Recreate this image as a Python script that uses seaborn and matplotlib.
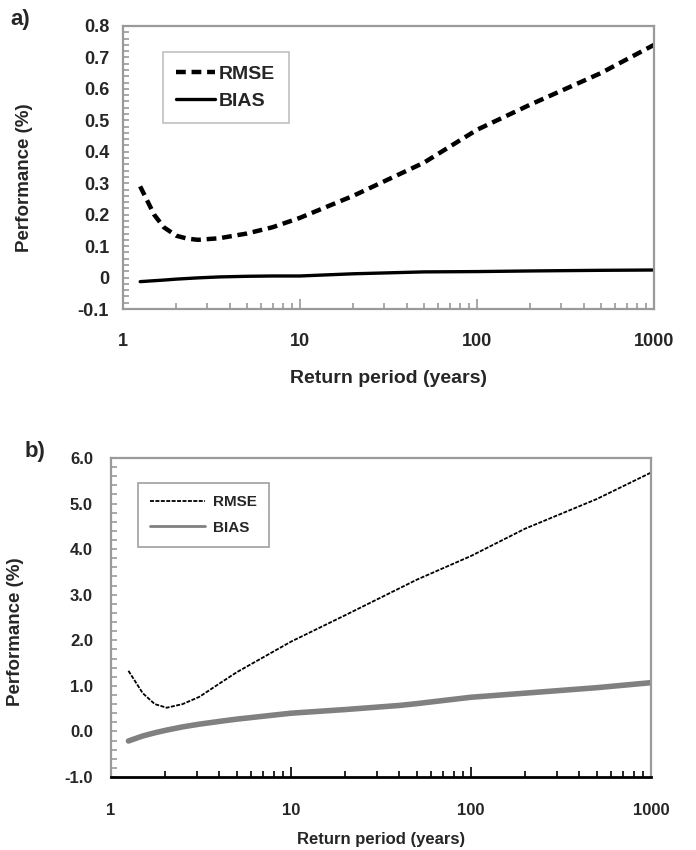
import numpy as np
import pandas as pd
import matplotlib
matplotlib.use("Agg")
import matplotlib.pyplot as plt
import seaborn as sns
from matplotlib.ticker import LogLocator, MultipleLocator, NullFormatter

# ========== Data ==========
# panel a)
rp_a = [1.25, 1.5, 1.7, 2.0, 2.3, 2.65, 3.5, 5, 7, 10, 20, 50, 100, 200, 500, 1000]
rmse_a = [0.29, 0.20, 0.16, 0.133, 0.124, 0.12, 0.125, 0.14, 0.16, 0.19, 0.26, 0.365, 0.47, 0.55, 0.65, 0.74]
bias_a = [-0.013, -0.010, -0.008, -0.005, -0.003, -0.001, 0.002, 0.004, 0.005, 0.005, 0.012, 0.018, 0.019, 0.021, 0.023, 0.024]

# panel b)
rp_b = [1.25, 1.5, 1.75, 2.04, 2.5, 3.1, 4, 5, 10, 20, 40, 50, 100, 200, 500, 1000]
rmse_b = [1.33, 0.84, 0.60, 0.52, 0.60, 0.76, 1.05, 1.30, 1.97, 2.55, 3.14, 3.33, 3.85, 4.45, 5.10, 5.68]
bias_b = [-0.21, -0.10, -0.03, 0.03, 0.10, 0.16, 0.22, 0.27, 0.40, 0.48, 0.57, 0.61, 0.75, 0.84, 0.96, 1.07]

yticks_a = [-0.1, 0, 0.1, 0.2, 0.3, 0.4, 0.5, 0.6, 0.7, 0.8]
ylabels_a = ['-0.1', '0', '0.1', '0.2', '0.3', '0.4', '0.5', '0.6', '0.7', '0.8']
yticks_b = [-1.0, 0.0, 1.0, 2.0, 3.0, 4.0, 5.0, 6.0]
ylabels_b = ['-1.0', '0.0', '1.0', '2.0', '3.0', '4.0', '5.0', '6.0']
xticks = [1, 10, 100, 1000]
xlabels = ['1', '10', '100', '1000']

sns.set_style('white')
plt.rcParams['font.family'] = ['Liberation Sans', 'DejaVu Sans']
plt.rcParams['axes.unicode_minus'] = False

fig = plt.figure(figsize=(6.96, 8.5), dpi=100)
grey = '#9a9a9a'

# ========== Panel a ==========
ax1 = fig.add_axes([123 / 696, 1 - 309 / 850, 531 / 696, 283 / 850])
df_a = pd.DataFrame({'rp': rp_a, 'RMSE': rmse_a, 'BIAS': bias_a})
sns.lineplot(data=df_a, x='rp', y='RMSE', ax=ax1, color='black', lw=3.2,
             linestyle=(0, (2.2, 1.3)), label='RMSE')
sns.lineplot(data=df_a, x='rp', y='BIAS', ax=ax1, color='black', lw=2.4, label='BIAS')
ax1.set_xscale('log')
ax1.set_xlim(1, 1000)
ax1.set_ylim(-0.1, 0.8)
ax1.set_xticks(xticks)
ax1.set_xticklabels(xlabels, fontweight='bold')
ax1.set_yticks(yticks_a)
ax1.set_yticklabels(ylabels_a, fontweight='bold')
ax1.xaxis.set_minor_locator(LogLocator(base=10, subs=np.arange(2, 10)))
ax1.xaxis.set_minor_formatter(NullFormatter())
ax1.yaxis.set_minor_locator(MultipleLocator(0.02))
for s in ax1.spines.values():
    s.set_color(grey)
    s.set_linewidth(1.6)
ax1.tick_params(axis='both', which='both', direction='in', color=grey, width=1.2,
                bottom=True, left=True)
ax1.tick_params(axis='x', which='major', length=7, pad=17, labelsize=13)
ax1.tick_params(axis='x', which='minor', length=4)
ax1.tick_params(axis='y', which='both', length=4, pad=10, labelsize=13)
ax1.set_xlabel('Return period (years)', fontsize=14, fontweight='bold')
ax1.set_ylabel('Performance (%)', fontsize=13.5, fontweight='bold')
ax1.xaxis.set_label_coords(0.5, -0.215)
ax1.yaxis.set_label_coords(-0.17, 0.463)
leg1 = ax1.legend(loc='upper left', bbox_to_anchor=(0.075, 0.908), fancybox=False,
                  edgecolor='#c0c0c0', framealpha=1, prop={'weight': 'bold', 'size': 14},
                  handlelength=2.0, handletextpad=0.2, borderpad=0.7, labelspacing=0.45,
                  borderaxespad=0)
leg1.get_frame().set_linewidth(1.2)
fig.text(10 / 696, 1 - 20 / 850, 'a)', fontsize=16, fontweight='bold', va='center')

# ========== Panel b ==========
ax2 = fig.add_axes([111 / 696, 1 - 777 / 850, 540 / 696, 319 / 850])
df_b = pd.DataFrame({'rp': rp_b, 'RMSE': rmse_b, 'BIAS': bias_b})
sns.lineplot(data=df_b, x='rp', y='RMSE', ax=ax2, color='black', lw=1.3,
             linestyle=(0, (2.2, 0.8)), label='RMSE')
sns.lineplot(data=df_b, x='rp', y='BIAS', ax=ax2, color='#808080', lw=4.0, label='BIAS')
ax2.set_xscale('log')
ax2.set_xlim(1, 1000)
ax2.set_ylim(-1.0, 6.0)
ax2.set_xticks(xticks)
ax2.set_xticklabels(xlabels, fontweight='bold')
ax2.set_yticks(yticks_b)
ax2.set_yticklabels(ylabels_b, fontweight='bold')
ax2.xaxis.set_minor_locator(LogLocator(base=10, subs=np.arange(2, 10)))
ax2.xaxis.set_minor_formatter(NullFormatter())
ax2.yaxis.set_minor_locator(MultipleLocator(0.2))
for name, s in ax2.spines.items():
    s.set_color(grey)
    s.set_linewidth(1.6)
ax2.spines['bottom'].set_color('black')
ax2.spines['bottom'].set_linewidth(2.0)
ax2.tick_params(axis='both', which='both', direction='in', width=1.2, bottom=True, left=True)
ax2.tick_params(axis='x', which='both', color='black')
ax2.tick_params(axis='x', which='major', length=7, pad=19, labelsize=12)
ax2.tick_params(axis='x', which='minor', length=4)
ax2.tick_params(axis='y', which='both', length=4, pad=13, labelsize=12, color=grey)
ax2.set_xlabel('Return period (years)', fontsize=12, fontweight='bold')
ax2.set_ylabel('Performance (%)', fontsize=13.5, fontweight='bold')
ax2.xaxis.set_label_coords(0.5, -0.172)
ax2.yaxis.set_label_coords(-0.161, 0.455)
leg2 = ax2.legend(loc='upper left', bbox_to_anchor=(0.05, 0.922), fancybox=False,
                  edgecolor='#a0a0a0', framealpha=1, prop={'weight': 'bold', 'size': 11},
                  handlelength=3.6, handletextpad=0.5, borderpad=0.8, labelspacing=0.75,
                  borderaxespad=0)
leg2.get_frame().set_linewidth(1.2)
leg2.get_lines()[1].set_linewidth(2.0)
fig.text(25 / 696, 1 - 452 / 850, 'b)', fontsize=16, fontweight='bold', va='center')

fig.savefig('out.png', dpi=100)
